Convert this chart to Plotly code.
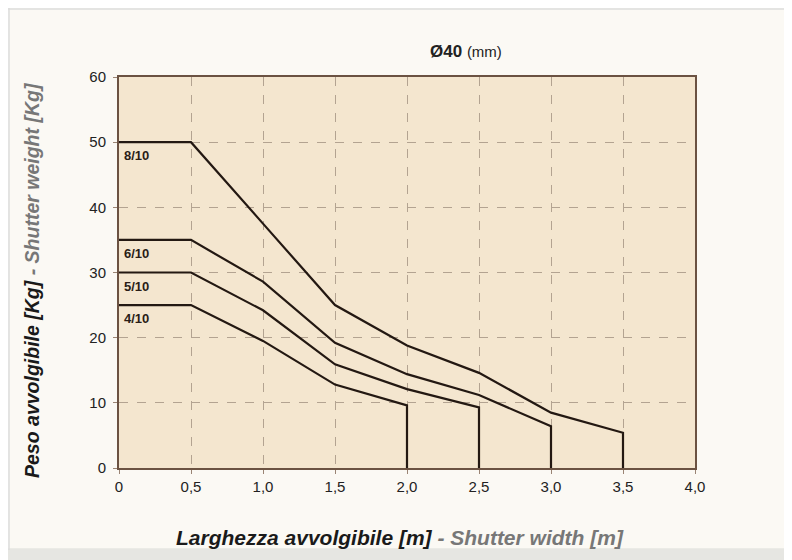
import plotly.graph_objects as go

# ---- data ----
series_names = ["8/10", "6/10", "5/10", "4/10"]
x_8 = [0, 0.5, 1.0, 1.5, 2.0, 2.5, 3.0, 3.5, 3.5]
y_8 = [50, 50, 37.5, 25, 18.8, 14.6, 8.5, 5.4, 0]
x_6 = [0, 0.5, 1.0, 1.5, 2.0, 2.5, 3.0, 3.0]
y_6 = [35, 35, 28.6, 19.2, 14.4, 11.2, 6.4, 0]
x_5 = [0, 0.5, 1.0, 1.5, 2.0, 2.5, 2.5]
y_5 = [30, 30, 24.2, 15.9, 12.1, 9.3, 0]
x_4 = [0, 0.5, 1.0, 1.5, 2.0, 2.0]
y_4 = [25, 25, 19.5, 12.8, 9.6, 0]
label_levels = [50, 35, 30, 25]

x_tickvals = [0, 0.5, 1.0, 1.5, 2.0, 2.5, 3.0, 3.5, 4.0]
x_ticktext = ["0", "0,5", "1,0", "1,5", "2,0", "2,5", "3,0", "3,5", "4,0"]
y_tickvals = [0, 10, 20, 30, 40, 50, 60]
y_ticktext = ["0", "10", "20", "30", "40", "50", "60"]

LINE = "#231812"
FONT = "Liberation Sans, Arial"
fig = go.Figure()
for xs, ys in [(x_8, y_8), (x_6, y_6), (x_5, y_5), (x_4, y_4)]:
    fig.add_trace(go.Scatter(x=xs, y=ys, mode="lines",
                             line=dict(color=LINE, width=2.2), showlegend=False,
                             hoverinfo="skip"))

for name, lvl in zip(series_names, label_levels):
    fig.add_annotation(x=0.02, y=lvl, text="<b>%s</b>" % name, showarrow=False,
                       xanchor="left", yanchor="top", yshift=-4,
                       font=dict(family=FONT, size=13, color="#2a1d17"))

axis_common = dict(showgrid=True, gridcolor="#b3a391", griddash="dash", gridwidth=1,
                   zeroline=False, showline=True, linecolor="#6b5242", linewidth=2,
                   mirror=True, ticks="outside", ticklen=4, tickcolor="#9a8474",
                   tickfont=dict(family=FONT, size=15, color="#222"))

fig.update_xaxes(range=[0, 4.0], tickvals=x_tickvals, ticktext=x_ticktext, **axis_common)
fig.update_yaxes(range=[0, 60], tickvals=y_tickvals, ticktext=y_ticktext,
                 ticklabelstandoff=4, **axis_common)

fig.add_annotation(xref="paper", yref="paper", x=0.602, y=1.064,
                   text="<b>Ø40</b> <span style='font-size:15px'>(mm)</span>",
                   showarrow=False, xanchor="center", yanchor="middle",
                   font=dict(family=FONT, size=17, color="#222"))

fig.add_annotation(xref="paper", yref="paper", x=0.488, y=-0.177,
                   text="<b><i>Larghezza avvolgibile [m]</i></b><b><i><span style='color:#777'> - Shutter width [m]</span></i></b>",
                   showarrow=False, xanchor="center", yanchor="middle",
                   font=dict(family=FONT, size=21, color="#1a1a1a"))

fig.add_annotation(xref="paper", yref="paper", x=-0.152, y=0.482, textangle=-90,
                   text="<b><i>Peso avvolgibile [Kg]</i></b><b><i><span style='color:#777'> - Shutter weight [Kg]</span></i></b>",
                   showarrow=False, xanchor="center", yanchor="middle",
                   font=dict(family=FONT, size=19.5, color="#1a1a1a"))

# outer frame
fig.add_shape(type="line", xref="paper", yref="paper", x0=-0.3, x1=1.3, y0=1.174, y1=1.174,
              line=dict(color="#dcdcdc", width=1.5))
fig.add_shape(type="line", xref="paper", yref="paper", x0=-0.191, x1=-0.191, y0=-0.21, y1=1.2,
              line=dict(color="#dcdcdc", width=1.5))
fig.add_shape(type="rect", xref="paper", yref="paper", x0=-0.3, x1=1.3, y0=-0.3, y1=-0.205,
              line=dict(width=0), fillcolor="#e6e6e2", layer="below")

fig.update_layout(width=792, height=560,
                  margin=dict(l=111, r=105, t=69, b=100),
                  paper_bgcolor="#fbf9f4", plot_bgcolor="#f4e6cf",
                  showlegend=False)

fig.write_html("out.html")
